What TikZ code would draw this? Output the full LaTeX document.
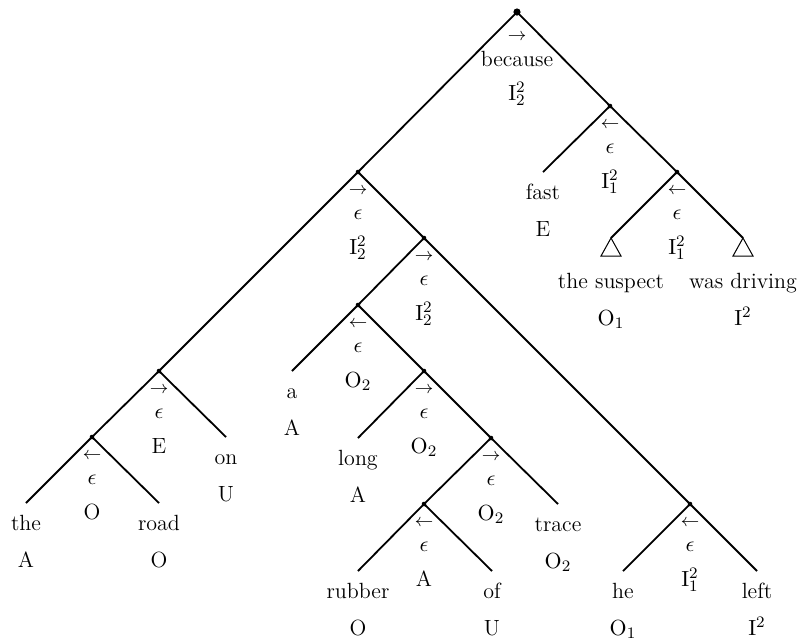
\documentclass[tikz,border=0pt]{standalone}
\usetikzlibrary{calc}
\begin{document}
% labels under a branching point: direction arrow, head word, category
\newcommand\innerlabels[4]{%
  \node[arr] (#1-a) at ([yshift=-9.5pt]#1) {$#2$};
  \node[anchor=base] (#1-m) at ([yshift=-23.5pt]#1) {#3};
  \node[anchor=base] (#1-c) at ([yshift=-41pt]#1) {#4};}
% labels under a leaf: word and category
\newcommand\leaflabels[3]{%
  \node[anchor=base] (#1-w) at ([yshift=-13.5pt]#1) {#2};
  \node[anchor=base] (#1-c) at ([yshift=-32pt]#1) {#3};}
% labels under a roofed (triangle) leaf
\newcommand\roofleaf[3]{%
  \draw[roof] (#1) -- ++(-10,18) -- ++(20,0) -- cycle;
  \node[anchor=base] (#1-w) at ([yshift=-25pt]#1) {#2};
  \node[anchor=base] (#1-c) at ([yshift=-43.5pt]#1) {#3};}
\begin{tikzpicture}[x=0.5pt,y=-0.5pt,line width=0.9pt,
  every node/.style={font=\fontsize{11}{13}\selectfont,inner sep=0pt},
  arr/.style={font=\fontsize{9}{11}\selectfont},
  roof/.style={line width=0.5pt},
  dot/.style={fill=black}]
\useasboundingbox (0,0) rectangle (803,639);

% branching points
\coordinate (r)    at (517,12);
\coordinate (rr)   at (610,106);
\coordinate (rrr)  at (677,172);
\coordinate (rl)   at (358,172);
\coordinate (rll)  at (159,371);
\coordinate (rlll) at (92,437);
\coordinate (rlr)  at (424,238);
\coordinate (np)   at (358,305);
\coordinate (n2)   at (424,371);
\coordinate (n3)   at (491,438);
\coordinate (n4)   at (424,504);
\coordinate (s)    at (690,504);

% leaves
\coordinate (w-fast)   at (543,172);
\coordinate (w-susp)   at (611,238);
\coordinate (w-drv)    at (743,238);
\coordinate (w-the)    at (26,503);
\coordinate (w-road)   at (159,503);
\coordinate (w-on)     at (226,437);
\coordinate (w-a)      at (292,371);
\coordinate (w-long)   at (358,438);
\coordinate (w-trace)  at (558,504);
\coordinate (w-rubber) at (358,571);
\coordinate (w-of)     at (492,571);
\coordinate (w-he)     at (623,571);
\coordinate (w-left)   at (757,571);

% branches
\draw (r) -- (rl);      \draw (r) -- (rr);
\draw (rr) -- (w-fast); \draw (rr) -- (rrr);
\draw (rrr) -- (w-susp);\draw (rrr) -- (w-drv);
\draw (rl) -- (rll);    \draw (rl) -- (rlr);
\draw (rll) -- (rlll);  \draw (rll) -- (w-on);
\draw (rlll) -- (w-the);\draw (rlll) -- (w-road);
\draw (rlr) -- (np);    \draw (rlr) -- (s);
\draw (np) -- (w-a);    \draw (np) -- (n2);
\draw (n2) -- (w-long); \draw (n2) -- (n3);
\draw (n3) -- (n4);     \draw (n3) -- (w-trace);
\draw (n4) -- (w-rubber);\draw (n4) -- (w-of);
\draw (s) -- (w-he);    \draw (s) -- (w-left);

% dots
\fill[dot] (r) circle[radius=1.8pt];
\foreach \p in {rr,rrr,rl,rll,rlll,rlr,np,n2,n3,n4,s}
  \fill[dot] (\p) circle[radius=1.15pt];

% root labels
\node[arr] (r-a) at ([yshift=-12.5pt]r) {$\rightarrow$};
\node[anchor=base] (r-m) at ([yshift=-27pt]r) {because};
\node[anchor=base] (r-c) at ([yshift=-44pt]r) {$\mathrm{I}_2^2$};

\innerlabels{rr}{\leftarrow}{$\epsilon$}{$\mathrm{I}_1^2$}
\innerlabels{rrr}{\leftarrow}{$\epsilon$}{$\mathrm{I}_1^2$}
\innerlabels{rl}{\rightarrow}{$\epsilon$}{$\mathrm{I}_2^2$}
\innerlabels{rll}{\rightarrow}{$\epsilon$}{E}
\innerlabels{rlll}{\leftarrow}{$\epsilon$}{O}
\innerlabels{rlr}{\rightarrow}{$\epsilon$}{$\mathrm{I}_2^2$}
\innerlabels{np}{\leftarrow}{$\epsilon$}{$\mathrm{O}_2$}
\innerlabels{n2}{\rightarrow}{$\epsilon$}{$\mathrm{O}_2$}
\innerlabels{n3}{\rightarrow}{$\epsilon$}{$\mathrm{O}_2$}
\innerlabels{n4}{\leftarrow}{$\epsilon$}{A}
\innerlabels{s}{\leftarrow}{$\epsilon$}{$\mathrm{I}_1^2$}

\leaflabels{w-fast}{fast}{E}
\leaflabels{w-the}{the}{A}
\leaflabels{w-road}{road}{O}
\leaflabels{w-on}{on}{U}
\leaflabels{w-a}{a}{A}
\leaflabels{w-long}{long}{A}
\leaflabels{w-trace}{trace}{$\mathrm{O}_2$}
\leaflabels{w-rubber}{rubber}{O}
\leaflabels{w-of}{of}{U}
\leaflabels{w-he}{he}{$\mathrm{O}_1$}
\leaflabels{w-left}{left}{$\mathrm{I}^2$}

\roofleaf{w-susp}{the suspect}{$\mathrm{O}_1$}
\roofleaf{w-drv}{was driving}{$\mathrm{I}^2$}
\end{tikzpicture}
\end{document}
